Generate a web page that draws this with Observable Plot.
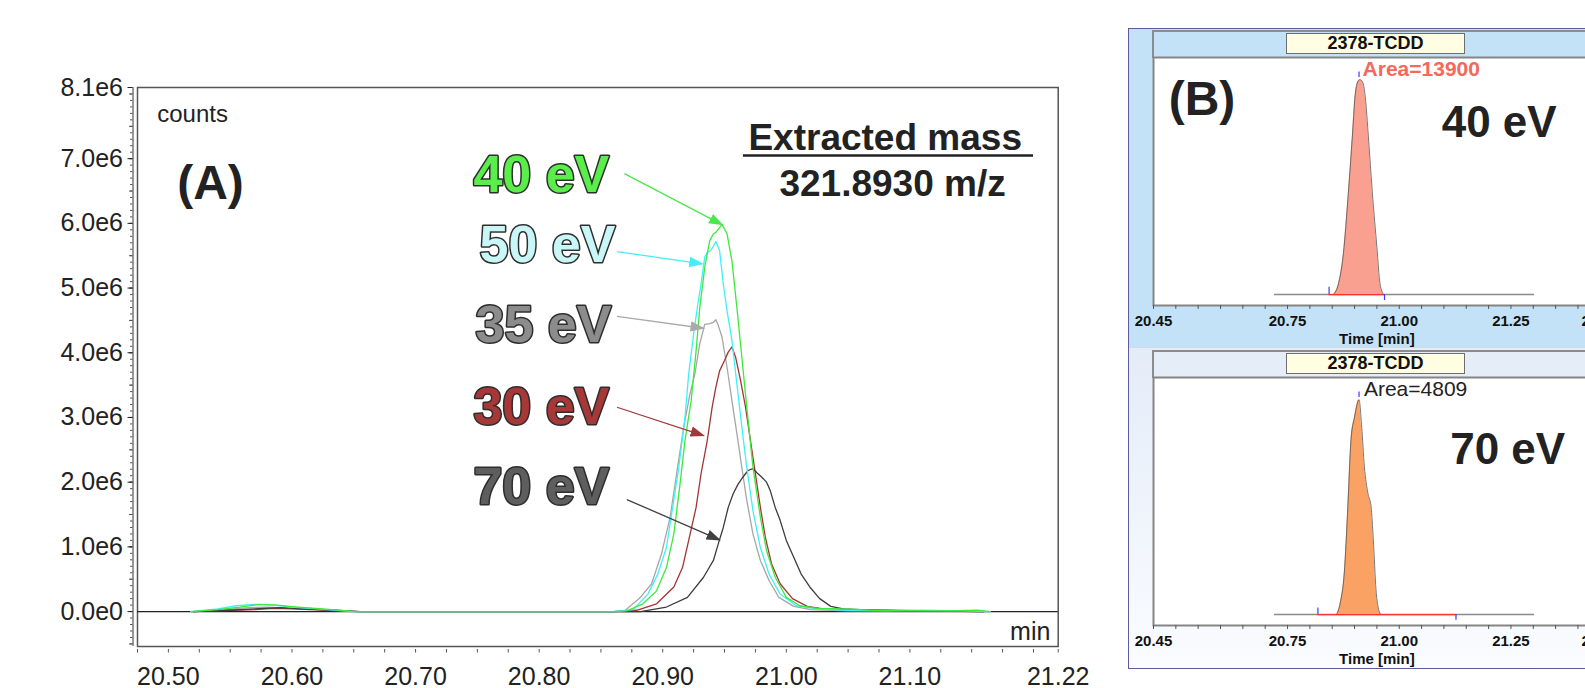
<!DOCTYPE html>
<html><head><meta charset="utf-8">
<script src="https://cdn.jsdelivr.net/npm/d3@7"></script>
<script src="https://cdn.jsdelivr.net/npm/@observablehq/plot@0.6"></script>
<style>
body{margin:0;width:1585px;height:688px;overflow:hidden;position:relative;background:#fff;font-family:"Liberation Sans",Arial,sans-serif;}
.abs{position:absolute;box-sizing:border-box;}
.title{font-weight:bold;font-size:18px;text-align:center;line-height:19px;color:#111;background:#fffde2;border:1px solid #6e6e6e;}
</style></head><body>
<div id="A" class="abs" style="left:0;top:0;width:1100px;height:688px"></div>
<div class="abs" style="left:1127.5px;top:27.5px;width:520px;height:641.5px;border:1.5px solid #5b5b9d;background:linear-gradient(to bottom,#c3e2f7 0px,#c3e2f7 318px,#d2dae4 318px,#d2dae4 319.5px,#e4ecf8 319.5px,#fafcff 100%);"></div>
<div class="abs" style="left:1151.7px;top:30px;width:500px;height:28px;border-top:2px solid #8c8c8c;border-left:2px solid #8c8c8c;background:#c3e2f7"></div>
<div class="abs title" style="left:1286px;top:33.3px;width:179px;height:21px">2378-TCDD</div>
<div class="abs" style="left:1151.7px;top:350px;width:500px;height:28px;border-top:2px solid #8c8c8c;border-left:2px solid #8c8c8c;background:#e5edf9"></div>
<div class="abs title" style="left:1286px;top:353.3px;width:179px;height:21px">2378-TCDD</div>
<div id="B1" class="abs" style="left:1122.7px;top:56.3px;width:516px;height:289px"></div>
<div id="B2" class="abs" style="left:1122.7px;top:376.3px;width:516px;height:289px"></div>
<script>
const FONT = '"Liberation Sans", Arial, sans-serif';

// ---------- Panel A data (time in min, counts in 1e6) ----------
const t40 = [20.518,20.54,20.558,20.573,20.588,20.605,20.625,20.652,20.86,20.871,20.884,20.895,20.903,20.909,20.914,20.918,20.923,20.927,20.930,20.934,20.938,20.941,20.943,20.945,20.948,20.952,20.956,20.960,20.964,20.968,20.973,20.979,20.984,20.991,21.000,21.011,21.025,21.045,21.07,21.10,21.13,21.155,21.165];
const c40 = [0,0.03,0.07,0.11,0.10,0.07,0.04,0,0,0.01,0.12,0.32,0.68,1.20,1.97,2.64,3.26,4.03,4.70,5.32,5.73,5.84,5.86,5.91,5.98,5.84,5.42,4.70,3.93,3.16,2.23,1.46,0.94,0.53,0.22,0.09,0.05,0.04,0.02,0.015,0.01,0.02,0];
const t50 = [20.518,20.54,20.555,20.57,20.585,20.60,20.62,20.65,20.86,20.876,20.888,20.896,20.903,20.908,20.913,20.918,20.921,20.925,20.928,20.931,20.934,20.936,20.939,20.943,20.946,20.949,20.952,20.956,20.960,20.964,20.968,20.973,20.979,20.986,20.995,21.008,21.025,21.05,21.08,21.11,21.14,21.165];
const c50 = [0,0.04,0.09,0.11,0.10,0.07,0.04,0,0,0.03,0.27,0.58,0.99,1.61,2.23,3.00,3.67,4.29,4.70,5.06,5.48,5.55,5.58,5.72,5.58,5.06,4.65,4.19,3.52,2.85,2.23,1.56,0.99,0.58,0.27,0.09,0.04,0.02,0.01,0.02,0.01,0];
const t35 = [20.52,20.545,20.565,20.58,20.60,20.625,20.65,20.86,20.869,20.881,20.891,20.899,20.906,20.912,20.917,20.922,20.926,20.930,20.934,20.938,20.941,20.943,20.945,20.948,20.952,20.956,20.960,20.964,20.968,20.973,20.979,20.986,20.994,21.006,21.02,21.05,21.10,21.16];
const c35 = [0,0.03,0.06,0.07,0.05,0.03,0,0,0.01,0.20,0.43,0.89,1.46,2.23,2.85,3.36,3.67,4.14,4.44,4.45,4.47,4.51,4.42,4.24,3.78,3.26,2.75,2.23,1.72,1.20,0.79,0.48,0.22,0.08,0.03,0.01,0.01,0];
const t30 = [20.52,20.55,20.57,20.585,20.60,20.63,20.655,20.86,20.879,20.895,20.909,20.916,20.921,20.927,20.931,20.936,20.940,20.943,20.946,20.950,20.953,20.956,20.959,20.963,20.967,20.971,20.975,20.979,20.983,20.988,20.995,21.005,21.017,21.03,21.05,21.08,21.12,21.16];
const c30 = [0,0.02,0.03,0.05,0.04,0.02,0,0,0.02,0.12,0.38,0.68,1.10,1.61,2.13,2.64,3.16,3.47,3.72,3.88,4.01,4.09,3.93,3.57,3.16,2.64,2.13,1.61,1.15,0.74,0.43,0.20,0.08,0.04,0.03,0.02,0.01,0];
const t70 = [20.52,20.55,20.57,20.59,20.61,20.635,20.655,20.86,20.882,20.903,20.920,20.933,20.941,20.945,20.949,20.953,20.957,20.961,20.965,20.969,20.973,20.976,20.980,20.984,20.987,20.991,20.995,21.000,21.006,21.012,21.019,21.027,21.036,21.046,21.07,21.10,21.16];
const c70 = [0,0.02,0.04,0.06,0.04,0.02,0,0,0,0.07,0.22,0.53,0.79,1.05,1.30,1.61,1.82,1.97,2.08,2.18,2.21,2.15,2.08,2.00,1.87,1.61,1.41,1.10,0.84,0.58,0.38,0.20,0.08,0.04,0.02,0.01,0];

const seriesNames = ["35 eV","30 eV","70 eV","50 eV","40 eV"];
const seriesT = {"40 eV": t40, "50 eV": t50, "35 eV": t35, "30 eV": t30, "70 eV": t70};
const seriesC = {"40 eV": c40, "50 eV": c50, "35 eV": c35, "30 eV": c30, "70 eV": c70};
const lineColor = {"40 eV":"#3de83d","50 eV":"#3ff0f7","35 eV":"#a6a6a6","30 eV":"#a33434","70 eV":"#3c3c3c"};

const yTickValues = [0,1,2,3,4,5,6,7,8.1];
const xTickValues = [20.5,20.6,20.7,20.8,20.9,21.0,21.1,21.22];

// label annotations (text + where arrows point)
const evLabels = [
  {text:"40 eV", x:20.7468, y:6.481, fill:"#5aee4a"},
  {text:"50 eV", x:20.7517, y:5.399, fill:"#c9f6f6"},
  {text:"35 eV", x:20.7485, y:4.162, fill:"#8c8c8c"},
  {text:"30 eV", x:20.7468, y:2.906, fill:"#a83838"},
  {text:"70 eV", x:20.7468, y:1.669, fill:"#5e5e5e"}
];
const arrows = [
  {x1:20.869, y1:6.770, x2:20.948, y2:5.981, color:"#4be84b"},
  {x1:20.863, y1:5.564, x2:20.932, y2:5.374, color:"#45eef6"},
  {x1:20.863, y1:4.564, x2:20.933, y2:4.379, color:"#aaaaaa"},
  {x1:20.863, y1:3.158, x2:20.933, y2:2.720, color:"#a03a3a"},
  {x1:20.871, y1:1.731, x2:20.946, y2:1.108, color:"#404040"}
];

const xMinor = d3.range(0, 30).map(i => +(20.475 + i * 0.025).toFixed(3)).concat([21.22]);
const yMinor = d3.range(-5, 81).map(i => i / 10);
const yHalf = d3.range(-1, 17).map(i => i / 2);
const fmtY = d => d === 0 ? "0.0e0" : d.toFixed(1) + "e6";

const lineMarks = seriesNames.map(name =>
  Plot.line(d3.zip(seriesT[name], seriesC[name]), {x: d => d[0], y: d => d[1], stroke: lineColor[name], strokeWidth: 1.3})
);

const chartA = Plot.plot({
  width: 1100, height: 688,
  marginLeft: 137, marginRight: 42.3, marginTop: 87, marginBottom: 42,
  x: {domain: [20.475, 21.22]},
  y: {domain: [-0.54, 8.1]},
  style: {fontFamily: FONT, fontSize: "25px", color: "#222", background: "transparent", maxWidth: "none", overflow: "visible"},
  marks: [
    Plot.frame({stroke: "#555", strokeWidth: 1.5}),
    Plot.ruleX([20.475], {dx: -4.5, stroke: "#555", strokeWidth: 1.2}),
    Plot.axisY(yMinor, {tickSize: 2.5, dx: -4.5, stroke: "#555", fill: "none"}),
    Plot.axisY(yHalf, {tickSize: 3.5, dx: -4.5, stroke: "#555", fill: "none"}),
    Plot.axisY(yTickValues, {tickSize: 5, dx: -4.5, tickPadding: 5, tickFormat: fmtY, fontSize: 25, color: "#222"}),
    Plot.axisX(xMinor, {tickSize: 3.5, dy: 3, stroke: "#555", fill: "none"}),
    Plot.axisX(xTickValues, {tickSize: 0, tickPadding: 21, tickFormat: d => d.toFixed(2), fontSize: 25, color: "#222"}),
    Plot.ruleY([0], {stroke: "#222", strokeWidth: 1.2}),
    ...lineMarks,
    Plot.link(arrows, {x1: "x1", y1: "y1", x2: "x2", y2: "y2", stroke: "color", strokeWidth: 1.3, markerEnd: "arrow"}),
    Plot.text(evLabels, {x: "x", y: "y", text: "text", fill: "fill", stroke: "#2e2e2e", strokeWidth: 3, paintOrder: "stroke", strokeLinejoin: "round", fontSize: 52, fontWeight: "bold", textAnchor: "start", lineAnchor: "bottom"}),
    Plot.text(["Extracted mass"], {x: 21.080, y: 7.141, fontSize: 37, fontWeight: "bold", fill: "#222", lineAnchor: "bottom"}),
    Plot.ruleY([7.048], {x1: 20.9653, x2: 21.2, stroke: "#222", strokeWidth: 2.5}),
    Plot.text(["321.8930 m/z"], {x: 21.086, y: 6.430, fontSize: 37, fontWeight: "bold", fill: "#222", lineAnchor: "bottom"}),
    Plot.text(["(A)"], {x: 20.5071, y: 6.383, fontSize: 48, fontWeight: "bold", fill: "#222", textAnchor: "start", lineAnchor: "bottom"}),
    Plot.text(["counts"], {x: 20.491, y: 7.563, fontSize: 24, fill: "#222", textAnchor: "start", lineAnchor: "bottom"}),
    Plot.text(["min"], {x: 21.2137, y: -0.437, fontSize: 25, fill: "#222", textAnchor: "end", lineAnchor: "bottom"})
  ]
});
// filled triangular arrow heads
chartA.querySelectorAll("marker").forEach(m => {
  const c = m.getAttribute("stroke");
  m.setAttribute("fill", c);
  m.setAttribute("stroke", "none");
  m.setAttribute("markerUnits", "userSpaceOnUse");
  m.setAttribute("markerWidth", 26);
  m.setAttribute("markerHeight", 26);
  m.querySelectorAll("path").forEach(p => p.setAttribute("d", "M-5,-2L0.6,0L-5,2Z"));
});
document.getElementById("A").appendChild(chartA);

// ---------- Panel B data (time in min, relative intensity %) ----------
const tB40 = [20.853,20.864,20.875,20.886,20.895,20.901,20.907,20.912,20.918,20.924,20.931,20.940,20.950,20.957,20.965];
const vB40 = [0,5.0,19.0,46.9,73.3,91.9,98.9,100,98.9,91.9,73.3,46.9,22.0,5.0,0];
const tB70 = [20.860,20.868,20.877,20.885,20.892,20.900,20.910,20.916,20.922,20.930,20.937,20.942,20.948,20.954,20.959];
const vB70 = [0,5.4,19.3,50.2,81.1,91.9,100,87.3,68.8,56.4,50.2,34.8,11.6,2.3,0];
const bTicks = [20.45,20.75,21.00,21.25,21.45];
const bMinor = d3.range(0, 21).map(i => +(20.45 + i * 0.05).toFixed(2));

function panelB(t, v, o) {
  const rows = d3.zip(t, v);
  const marks = [
    Plot.frame({fill: "white", stroke: "#858585", strokeWidth: 2}),
    Plot.ruleY([0], {x1: 20.721, x2: 21.303, stroke: "#8a8a8a", strokeWidth: 1.6}),
    Plot.areaY(rows, {x: d => d[0], y: d => d[1], fill: o.fill, curve: "monotone-x"}),
    Plot.line(rows, {x: d => d[0], y: d => d[1], stroke: "#555", strokeWidth: 0.8, curve: "monotone-x"}),
    Plot.ruleY([0], {x1: o.i0, x2: o.i1, stroke: "#ff3030", strokeWidth: 1.3}),
    Plot.ruleX(o.marks, {x: "x", y1: "y1", y2: "y2", stroke: "#3a3aff", strokeWidth: 1.2}),
    Plot.text([o.area], {x: o.ax, y: 101.5, fontSize: 21, fontWeight: o.areaWeight, fill: o.areaColor, textAnchor: "start", lineAnchor: "bottom"}),
    Plot.text([o.ev], {x: o.evx, y: o.evy, fontSize: 44, fontWeight: "bold", fill: "#222", textAnchor: "start", lineAnchor: "bottom"}),
    Plot.axisX(bMinor, {tickSize: 4, stroke: "#555", fill: "none"}),
    Plot.axisX(bTicks, {tickSize: 0, tickPadding: 9.4, tickFormat: d => d.toFixed(2), fontSize: 15, fontWeight: "bold", color: "#111"}),
    Plot.text(["Time [min]"], {frameAnchor: "bottom", dy: 38.3, lineAnchor: "bottom", fontSize: 15, fontWeight: "bold", fill: "#111"})
  ];
  if (o.panel) marks.push(Plot.text([o.panel], {x: 20.484, y: 83.4, fontSize: 48, fontWeight: "bold", fill: "#222", textAnchor: "start", lineAnchor: "bottom"}));
  return Plot.plot({
    width: 516, height: 289,
    marginLeft: 30, marginRight: 39.2, marginTop: 1, marginBottom: 40,
    x: {domain: [20.45, 21.45]},
    y: {domain: [-5.1, 110.3], axis: null},
    style: {fontFamily: FONT, background: "transparent", maxWidth: "none", overflow: "visible"},
    marks
  });
}

document.getElementById("B1").appendChild(panelB(tB40, vB40, {
  fill: "#f9a090", i0: 20.843, i1: 20.967,
  marks: [{x: 20.843, y1: 0, y2: 3.4}, {x: 20.967, y1: 0, y2: -2.8}, {x: 20.910, y1: 101, y2: 103.5}],
  area: "Area=13900", ax: 20.918, areaWeight: "bold", areaColor: "#f4695a",
  ev: "40 eV", evx: 21.095, evy: 73.3, panel: "(B)"
}));
document.getElementById("B2").appendChild(panelB(tB70, vB70, {
  fill: "#f9a263", i0: 20.818, i1: 21.127,
  marks: [{x: 20.818, y1: 0, y2: 3.1}, {x: 21.127, y1: 0, y2: -2.6}, {x: 20.910, y1: 101, y2: 103.5}],
  area: "Area=4809", ax: 20.921, areaWeight: "normal", areaColor: "#222",
  ev: "70 eV", evx: 21.114, evy: 70.0, panel: null
}));
</script>
</body></html>
